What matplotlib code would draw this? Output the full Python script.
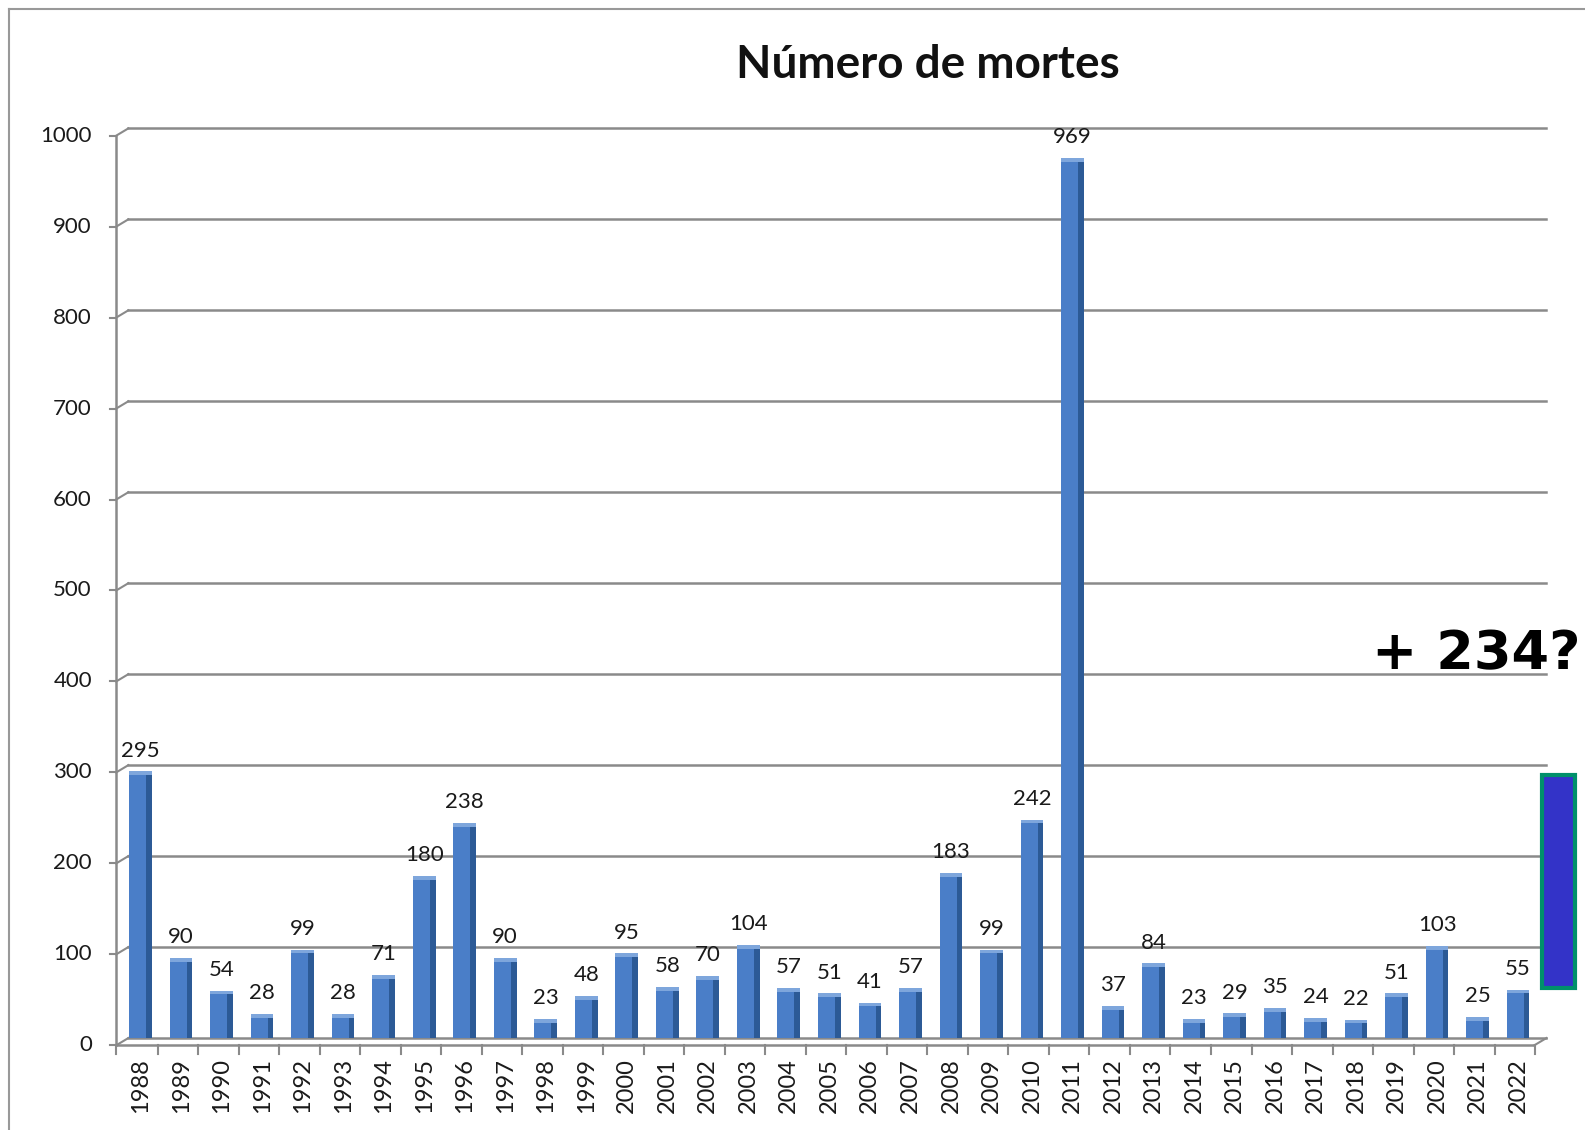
import matplotlib.pyplot as plt
from matplotlib.patches import Rectangle
import numpy as np

years = [str(y) for y in range(1988, 2023)]
deaths = [295, 90, 54, 28, 99, 28, 71, 180, 238, 90, 23, 48, 95, 58, 70, 104,
          57, 51, 41, 57, 183, 99, 242, 969, 37, 84, 23, 29, 35, 24, 22, 51,
          103, 25, 55]
extra = 234
extra_label = '+ 234?'
yticks = list(range(0, 1001, 100))

plt.rcParams['font.family'] = ['Lato', 'DejaVu Sans']

fig = plt.figure(figsize=(15.85, 11.3), dpi=100)
ax = fig.add_axes([0.0810, 0.0814, 0.8947, 0.8050])
ax.set_xlim(-0.30, 34.70)
ax.set_ylim(0, 1000)
ax.axis('off')

grid_c = '#8a8a8a'
off = 8  # front/back depth offset in data units
x_front = -0.60

# back wall gridlines + slanted connectors to the front axis
for v in yticks:
    ax.plot([-0.30, 34.70], [v, v], color=grid_c, lw=1.8, clip_on=False, zorder=1)
    ax.plot([x_front, -0.30], [v - off, v], color=grid_c, lw=1.5, clip_on=False, zorder=1)
    ax.plot([x_front - 0.15, x_front], [v - off, v - off], color=grid_c, lw=1.5, clip_on=False)
    ax.text(x_front - 0.6, v - off, str(v), ha='right', va='center', fontsize=16,
            color='#1a1a1a', clip_on=False)

# front axis and floor
ax.plot([x_front, x_front], [-off, 1000 - off], color=grid_c, lw=1.8, clip_on=False)
ax.plot([x_front, 34.40], [-off, -off], color=grid_c, lw=1.8, clip_on=False)
ax.plot([34.40, 34.70], [-off, 0], color=grid_c, lw=1.5, clip_on=False)
for i in range(len(years)):
    ax.plot([i + 0.42, i + 0.42], [-off, -off - 10], color=grid_c, lw=1.5, clip_on=False)
ax.plot([x_front, x_front], [-off, -off - 10], color=grid_c, lw=1.5, clip_on=False)

# bars with a simple 3D look (front face sits a little in front of the wall)
x = np.arange(len(years))
vals = np.array(deaths)
front_w, side_w = 0.42, 0.14
ax.bar(x - side_w / 2, vals - 2, bottom=-4, width=front_w,
       color='#4a7ec8', zorder=3)
ax.bar(x + front_w / 2, vals - 2, bottom=-2, width=side_w,
       color='#2c5a96', zorder=3)
ax.bar(x, 4, bottom=vals - 6, width=front_w + side_w, color='#7ea6dc', zorder=3)

for xi, v in zip(x, deaths):
    ax.text(xi, v + 10, str(v), ha='center', va='bottom', fontsize=16,
            color='#1a1a1a', zorder=4)

for xi, yr in zip(x, years):
    ax.text(xi, -off - 14, yr, rotation=90, ha='center', va='top', fontsize=17,
            color='#1a1a1a', clip_on=False)

ax.set_title('Número de mortes', fontsize=33, fontweight='bold', pad=36,
             x=0.564, color='#111111')

# the hypothetical extra bar
ax.add_patch(Rectangle((35 - 0.40, deaths[-1]), 0.80, extra, facecolor='#3333c8',
                       edgecolor='#00906a', lw=3, clip_on=False, zorder=5))
ax.text(35.55, 405, extra_label, ha='right', va='baseline', fontsize=39,
        fontweight='bold', family='DejaVu Sans', color='black', clip_on=False)

# outer frame of the pasted chart
fig.add_artist(plt.Line2D([9 / 1585, 9 / 1585], [0, 1 - 9 / 1130],
                          transform=fig.transFigure, color='#999999', lw=1.5))
fig.add_artist(plt.Line2D([9 / 1585, 1], [1 - 9 / 1130, 1 - 9 / 1130],
                          transform=fig.transFigure, color='#999999', lw=1.5))

fig.savefig('out.png', dpi=100)
